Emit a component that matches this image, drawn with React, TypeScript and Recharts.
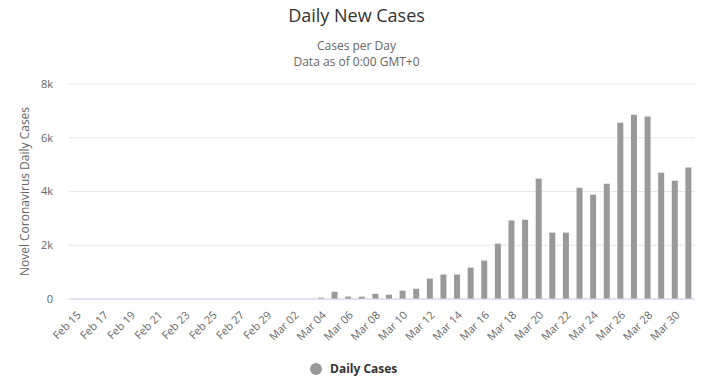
import { BarChart, Bar, XAxis, YAxis, CartesianGrid } from "recharts";

const DATES = [
  "Feb 15", "Feb 16", "Feb 17", "Feb 18", "Feb 19", "Feb 20", "Feb 21", "Feb 22",
  "Feb 23", "Feb 24", "Feb 25", "Feb 26", "Feb 27", "Feb 28", "Feb 29",
  "Mar 01", "Mar 02", "Mar 03", "Mar 04", "Mar 05", "Mar 06", "Mar 07", "Mar 08",
  "Mar 09", "Mar 10", "Mar 11", "Mar 12", "Mar 13", "Mar 14", "Mar 15", "Mar 16",
  "Mar 17", "Mar 18", "Mar 19", "Mar 20", "Mar 21", "Mar 22", "Mar 23", "Mar 24",
  "Mar 25", "Mar 26", "Mar 27", "Mar 28", "Mar 29", "Mar 30", "Mar 31",
];

const DAILY_CASES = [
  0, 0, 0, 0, 0, 0, 0, 0,
  0, 0, 0, 0, 0, 0, 0,
  0, 0, 0, 50, 270, 90, 85, 195,
  160, 310, 380, 760, 910, 910, 1170, 1430,
  2060, 2920, 2950, 4480, 2470, 2470, 4140, 3880,
  4290, 6560, 6860, 6790, 4700, 4400, 4890,
];

const Y_TICKS = [0, 2000, 4000, 6000, 8000];

const data = DATES.map((date, i) => ({ date, cases: DAILY_CASES[i] }));

const FONT = '"Open Sans", "Liberation Sans", sans-serif';

const DateTick = ({ x, y, payload }: any) => (
  <g transform={`translate(${x + 3},${y + 6})`}>
    <text
      transform="rotate(-45)"
      textAnchor="end"
      dy={4}
      fontSize={11}
      fill="#666666"
      fontFamily={FONT}
    >
      {payload.value}
    </text>
  </g>
);

const subStyle = {
  position: "absolute" as const,
  left: 0,
  width: 713,
  textAlign: "center" as const,
  fontSize: 12,
  color: "#666666",
  lineHeight: "15px",
};

const App = () => {
  return (
    <div style={{ position: "absolute", left: 0, top: 0, width: 713, height: 383, background: "#fff", fontFamily: FONT }}>
      <div style={{ position: "absolute", left: 0, width: 713, top: 3, textAlign: "center", fontSize: 18, color: "#333333" }}>
        Daily New Cases
      </div>
      <div style={{ ...subStyle, top: 38 }}>Cases per Day</div>
      <div style={{ ...subStyle, top: 54 }}>Data as of 0:00 GMT+0</div>
      <BarChart width={713} height={383} data={data} margin={{ top: 84, right: 18, left: 0, bottom: 84 - 60 }}>
        <CartesianGrid vertical={false} stroke="#e6e6e6" />
        <XAxis
          dataKey="date"
          interval={1}
          tick={<DateTick />}
          tickLine={false}
          axisLine={{ stroke: "#ccd6eb" }}
          height={60}
        />
        <YAxis
          width={69}
          domain={[0, 8000]}
          ticks={Y_TICKS}
          tickFormatter={(v: number) => (v === 0 ? "0" : `${v / 1000}k`)}
          tick={{ fontSize: 11, fill: "#666666", fontFamily: FONT }}
          tickLine={false}
          axisLine={false}
          tickSize={0}
          tickMargin={16}
          label={{
            value: "Novel Coronavirus Daily Cases",
            angle: -90,
            position: "insideLeft",
            offset: 25,
            style: { textAnchor: "middle", fontSize: 12, fill: "#666666", fontFamily: FONT },
          }}
        />
        <Bar dataKey="cases" fill="#999999" barSize={6} isAnimationActive={false} />
      </BarChart>
      <div style={{ position: "absolute", top: 360, left: 310, display: "flex", alignItems: "center" }}>
        <span style={{ width: 12, height: 12, borderRadius: 6, background: "#999999", display: "inline-block", marginRight: 8 }} />
        <span style={{ fontSize: 12, fontWeight: "bold", color: "#333333" }}>Daily Cases</span>
      </div>
    </div>
  );
};

export default App;
